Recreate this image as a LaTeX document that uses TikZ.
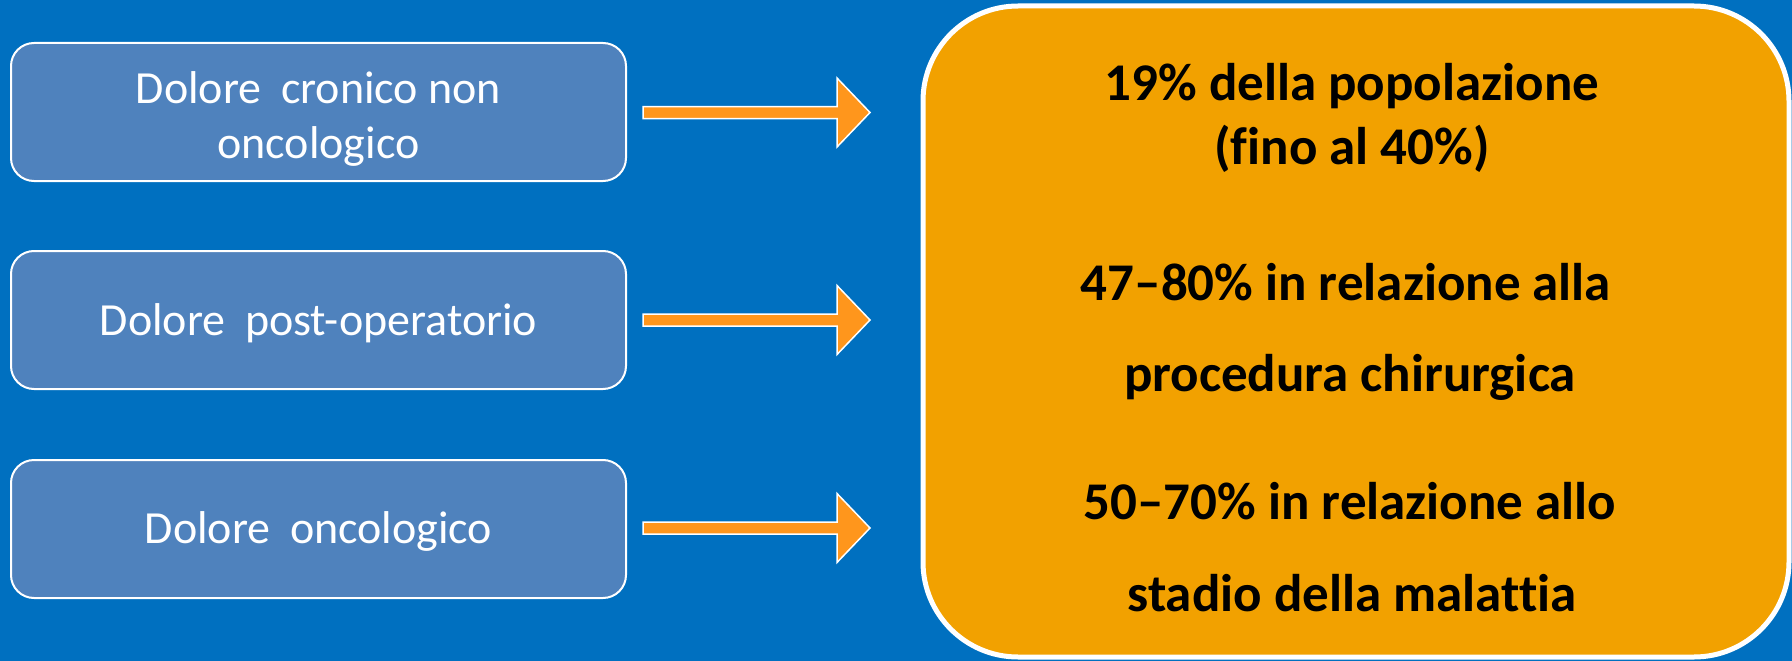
\documentclass[tikz,border=0pt]{standalone}
\usepackage{fontspec}
\setmainfont{Carlito}[Ligatures=NoCommon]
\definecolor{bgblue}{RGB}{0,112,192}
\definecolor{boxblue}{RGB}{79,130,189}
\definecolor{panelorange}{RGB}{242,161,0}
\definecolor{arroworange}{RGB}{255,150,28}
\tikzset{
  catbox/.style={draw=white, line width=2pt, fill=boxblue, rounded corners=23pt,
    minimum width=615pt, minimum height=138pt, text=white, align=center,
    font=\fontsize{46}{55}\selectfont, inner sep=0pt},
  panel/.style={draw=white, line width=5pt, fill=panelorange, rounded corners=95pt,
    minimum width=866pt, minimum height=651pt, inner sep=0pt},
  stat/.style={anchor=base, font=\fontsize{53}{60}\selectfont\bfseries, text=black, inner sep=0pt},
  blockarrow/.pic={
    \draw[white, line width=1.5pt, fill=arroworange, line join=miter]
      (0,-6) -- (194,-6) -- (194,-34.5) -- (227,0) -- (194,34.5) -- (194,6) -- (0,6) -- cycle;
  }
}
\begin{document}
\begin{tikzpicture}[x=1pt, y=-1pt]
  % page and background
  \fill[bgblue] (0,0) rectangle (1792,661);
  \useasboundingbox (0,0) rectangle (1792,661);

  % categories on the left
  \node[catbox, text height=103pt, text depth=11pt] (chronic) at (318.5,112) {Dolore\hspace{0.2em} cronico non\\oncologico};
  \node[catbox, text height=39pt] (postop)  at (318.5,320) {Dolore\hspace{0.2em} post-operatorio};
  \node[catbox, text height=37pt] (cancer)  at (318.5,529) {Dolore\hspace{0.2em} oncologico};

  % block arrows
  \coordinate (a1) at (643,112.5);
  \coordinate (a2) at (643,320);
  \coordinate (a3) at (643,528);
  \pic at (a1) {blockarrow};
  \pic at (a2) {blockarrow};
  \pic at (a3) {blockarrow};

  % prevalence panel
  \node[panel] (prev) at (1356,331.5) {};
  \node[stat] (l1) at (1352,100) {19\% della popolazione};
  \node[stat] (l2) at (1352,164) {(fino al 40\%)};
  \node[stat] (l3) at (1346,300) {47–80\% in relazione alla};
  \node[stat] (l4) at (1350,391) {procedura chirurgica};
  \node[stat] (l5) at (1350,519) {50–70\% in relazione allo};
  \node[stat] (l6) at (1352,611) {stadio della malattia};
\end{tikzpicture}
\end{document}
